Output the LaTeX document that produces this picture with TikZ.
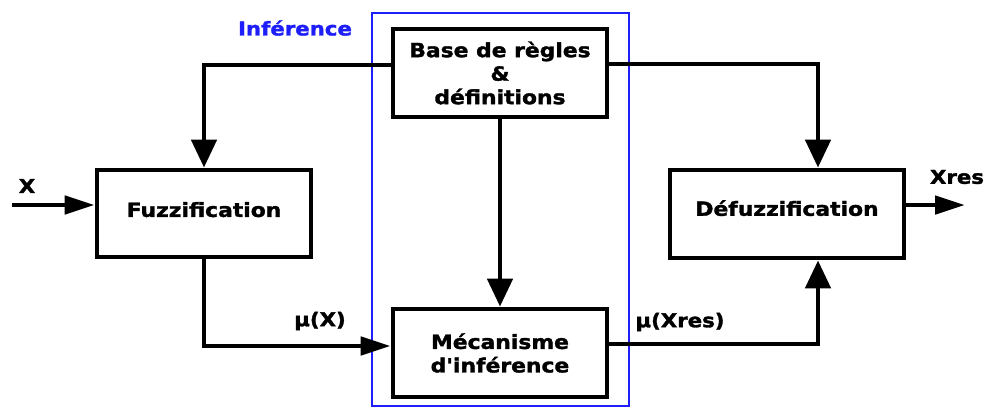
\documentclass[tikz,border=0pt]{standalone}
\usepackage{fontspec}
\newfontfamily\lblfont{DejaVu Sans Bold}[FakeStretch=1.12,FakeBold=1.6]
\usetikzlibrary{arrows.meta}
\definecolor{frameblue}{RGB}{30,30,250}
\tikzset{
  block/.style={draw, line width=4.8pt, fill=white, align=center,
    font=\lblfont\fontsize{19.5}{23.5}\selectfont, inner sep=0pt},
  tag/.style={font=\lblfont\fontsize{19}{22}\selectfont, inner sep=0pt},
  wire/.style={line width=4.8pt},
  harrow/.style={wire, -{Triangle[length=30pt,width=18pt]}},
  varrow/.style={wire, -{Triangle[length=28pt,width=25pt]}},
}
\begin{document}
\begin{tikzpicture}[x=1pt,y=-1pt]
  \useasboundingbox (0,0) rectangle (985,408);

  % inference frame
  \draw[frameblue, line width=1.2pt] (372,13) rectangle (629,406);
  \node[tag, text=frameblue] (inf) at (295,28) {Inférence};

  % blocks
  \node[block, minimum width=214pt, minimum height=88pt] (base) at (500,73)
    {Base de règles\\\&\\définitions};
  \node[block, minimum width=214pt, minimum height=87pt, text depth=8pt] (fuzz)
    at (204,213.5) {Fuzzification};
  \node[block, minimum width=214pt, minimum height=88pt] (mech) at (500,353)
    {Mécanisme\\d'inférence};
  \node[block, minimum width=234pt, minimum height=88pt, text depth=12pt] (defuzz)
    at (787,214) {Défuzzification};

  % free ends
  \coordinate (xin) at (12,205);
  \coordinate (xout) at (965,205);

  % connectors
  \draw[varrow] ([yshift=8pt]base.west) -| (fuzz.north);
  \draw[varrow] ([yshift=9pt]base.east) -| ([xshift=31pt]defuzz.north);
  \draw[varrow] (base.south) -- (mech.north);
  \draw[harrow] (xin) -- ([yshift=8.5pt]fuzz.west);
  \draw[harrow] (fuzz.south) |- ([yshift=7pt]mech.west);
  \draw[varrow] ([yshift=9pt]mech.east) -| ([xshift=31pt]defuzz.south);
  \draw[harrow] ([yshift=9pt]defuzz.east) -- (xout);

  % signal labels
  \node[tag] (lx) at (27,186) {X};
  \node[tag] (lmux) at (320,321) {μ(X)};
  \node[tag] (lmuxres) at (680,322) {μ(Xres)};
  \node[tag] (lxres) at (957,177) {Xres};
\end{tikzpicture}
\end{document}
